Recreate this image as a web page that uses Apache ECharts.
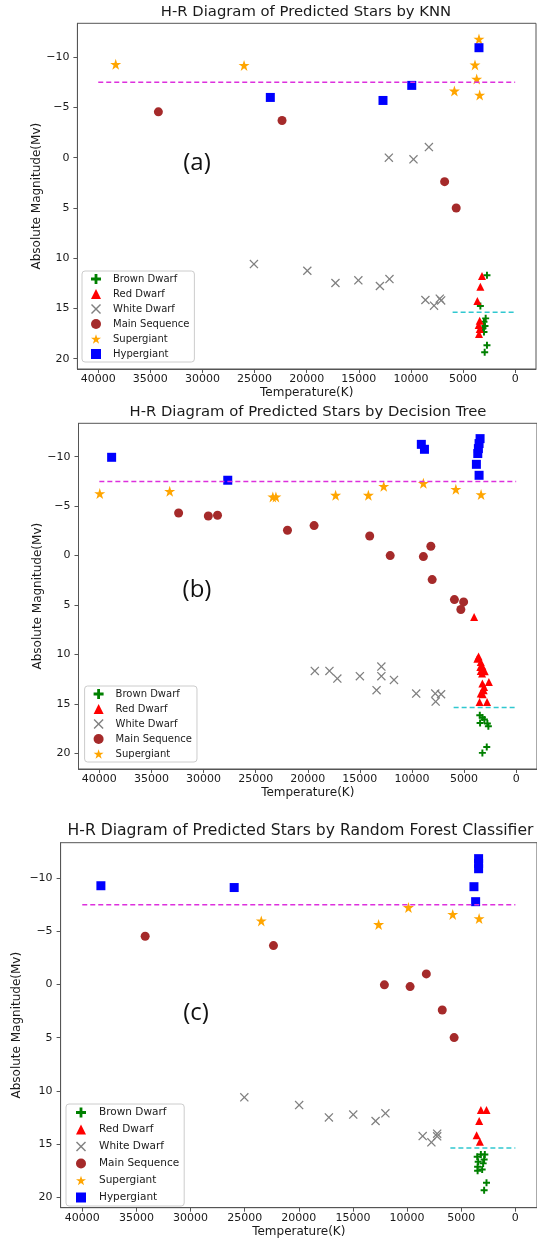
<!DOCTYPE html>
<html>
<head>
<meta charset="utf-8">
<script src="https://cdn.jsdelivr.net/npm/echarts@6/dist/echarts.min.js"></script>
<style>
html, body { margin: 0; padding: 0; background: #fff; }
#main { width: 537px; height: 1241px; }
</style>
</head>
<body>
<div id="main"></div>
<script>
// star classes, in legend order
var classes = ['Brown Dwarf', 'Red Dwarf', 'White Dwarf', 'Main Sequence', 'Supergiant', 'Hypergiant'];

// axis ticks
var tempTicks = [0, 5000, 10000, 15000, 20000, 25000, 30000, 35000, 40000];
var magTicks = [-10, -5, 0, 5, 10, 15, 20];

// reference lines [x from, x to] and y
var hyperLineX = [40000, 0];
var hyperLineY = -7.5;
var dwarfLineX = [6000, 0];
var dwarfLineY = 15.38;

// (a) KNN  [temperature, absolute magnitude]
var knnBrown = [[2704, 11.7], [3337, 14.76], [2828, 15.99], [2991, 16.32], [2895, 16.75], [3087, 16.98], [2991, 17.35], [2704, 18.67], [2924, 19.37]];
var knnRed = [[3183, 11.77], [3337, 12.84], [3624, 14.26], [3404, 16.22], [3500, 16.65], [3404, 17.05], [3470, 17.55]];
var knnWhite = [[25064, 10.59], [19941, 11.25], [17241, 12.47], [15044, 12.2], [12975, 12.77], [12059, 12.08], [8611, 14.16], [7783, 14.73], [7232, 14.03], [7100, 14.2], [12118, 0], [9754, 0.16], [8276, -1.06]];
var knnMain = [[34230, -4.57], [22365, -3.7], [6768, 2.38], [5655, 5.0]];
var knnSuper = [[38325, -9.3], [26010, -9.18], [3471, -11.81], [3854, -9.23], [3691, -7.83], [5829, -6.64], [3404, -6.24]];
var knnHyper = [[23490, -6.0], [12680, -5.7], [9921, -7.2], [3471, -10.95]];

// (b) Decision Tree
var dtBrown = [[3491, 16.15], [3242, 16.39], [3051, 16.59], [3462, 16.93], [2764, 16.99], [2668, 17.27], [2822, 19.36], [3242, 19.96]];
var dtRed = [[4036, 6.21], [3606, 10.2], [3720, 10.45], [3396, 10.76], [3443, 11.27], [3242, 11.2], [3013, 11.7], [3271, 11.94], [3396, 11.67], [2621, 12.78], [3242, 12.95], [3080, 13.29], [3118, 13.62], [3214, 14.03], [3396, 13.96], [3510, 14.8], [2793, 14.8]];
var dtWhite = [[19322, 11.67], [17917, 11.67], [17160, 12.44], [14998, 12.2], [13396, 13.62], [12934, 11.23], [12934, 12.2], [11725, 12.58], [9592, 13.96], [7764, 13.96], [7725, 14.77], [7204, 14.03]];
var dtMain = [[32393, -4.31], [29543, -4.0], [28659, -4.08], [21946, -2.56], [19391, -3.03], [14054, -1.98], [12088, 0], [8904, 0.1], [8187, -0.94], [8059, 2.43], [5926, 4.45], [5042, 4.69], [5307, 5.46]];
var dtSuper = [[39960, -6.27], [33248, -6.5], [23351, -5.93], [23056, -5.93], [17327, -6.1], [14182, -6.1], [12708, -7.0], [8904, -7.31], [5787, -6.7], [3367, -6.17]];
var dtHyper = [[38821, -9.94], [27676, -7.62], [9100, -11.25], [8800, -10.75], [3462, -11.83], [3558, -11.33], [3625, -10.82], [3683, -10.32], [3816, -9.23], [3558, -8.12]];

// (c) Random Forest
var rfBrown = [[2819, 15.99], [3184, 15.99], [3522, 16.21], [2883, 16.46], [3431, 16.68], [2974, 16.83], [3485, 17.15], [3066, 17.4], [3485, 17.53], [2664, 18.66], [2883, 19.35]];
var rfRed = [[3184, 11.81], [2664, 11.81], [3339, 12.85], [3577, 14.17], [3276, 14.8]];
var rfWhite = [[25031, 10.61], [19968, 11.34], [17221, 12.5], [14971, 12.24], [12909, 12.84], [12000, 12.12], [8559, 14.26], [7753, 14.85], [7219, 14.03], [7219, 14.28]];
var rfMain = [[34190, -4.55], [22340, -3.67], [12094, 0.03], [9721, 0.19], [8221, -1.0], [6750, 2.39], [5653, 4.99]];
var rfSuper = [[23466, -5.99], [12628, -5.65], [9872, -7.25], [5784, -6.6], [3347, -6.21]];
var rfHyper = [[38278, -9.3], [25968, -9.13], [3394, -11.85], [3394, -11.4], [3394, -10.9], [3823, -9.21], [3668, -7.8]];

var plots = [
	{ title: 'H-R Diagram of Predicted Stars by KNN', tag: '(a)', sets: [knnBrown, knnRed, knnWhite, knnMain, knnSuper, knnHyper], legend: classes },
	{ title: 'H-R Diagram of Predicted Stars by Decision Tree', tag: '(b)', sets: [dtBrown, dtRed, dtWhite, dtMain, dtSuper, dtHyper], legend: classes.slice(0, 5) },
	{ title: 'H-R Diagram of Predicted Stars by Random Forest Classifier', tag: '(c)', sets: [rfBrown, rfRed, rfWhite, rfMain, rfSuper, rfHyper], legend: classes }
];

// layout of each panel (pixels)
var layout = [
	{ grid: { left: 77.4, top: 23.3, width: 458.6, height: 345.7 }, ymin: -13.38, ymax: 21.03, titleX: 306, titleY: 5, tagX: 197, tagY: 163,
	  legend: { left: 82, top: 271, gap: 5, pad: [3, 5, 3, 9], txt: 7 }, yName: 35, font: 14.8 },
	{ grid: { left: 78.5, top: 423.3, width: 459.5, height: 345.7 }, ymin: -13.38, ymax: 21.59, titleX: 308, titleY: 405, tagX: 197, tagY: 590,
	  legend: { left: 84.6, top: 686, gap: 5, pad: [3, 5, 3, 9], txt: 7 }, yName: 35, font: 14.8 },
	{ grid: { left: 60.6, top: 842.7, width: 482.2, height: 365 }, ymin: -13.35, ymax: 21.0, titleX: 300.5, titleY: 823, tagX: 196, tagY: 1013,
	  legend: { left: 66, top: 1104, gap: 6, pad: [3, 5, 3, 10], txt: 8 }, yName: 37.5, font: 15.6 }
];

var plusPath = 'path://M36,0 H64 V36 H100 V64 H64 V100 H36 V64 H0 V36 H36 Z';
var crossPath = 'path://M0,10 L10,0 L50,40 L90,0 L100,10 L60,50 L100,90 L90,100 L50,60 L10,100 L0,90 L40,50 Z';
var starPath = 'path://M50,0 L61.8,35.4 L100,35.4 L69.1,57.3 L80.9,95.1 L50,72.4 L19.1,95.1 L30.9,57.3 L0,35.4 L38.2,35.4 Z';

var markers = {
	'Brown Dwarf': { symbol: plusPath, size: 7, color: '#008000' },
	'Red Dwarf': { symbol: 'triangle', size: 8, color: '#ff0000' },
	'White Dwarf': { symbol: crossPath, size: 9, color: '#808080' },
	'Main Sequence': { symbol: 'circle', size: 9, color: '#a52a2a' },
	'Supergiant': { symbol: starPath, size: 11, color: '#ffa500' },
	'Hypergiant': { symbol: 'rect', size: 9, color: '#0000ff' }
};

var FONT = 'DejaVu Sans';
var TXT = '#1a1a1a';
var minus = function(v) { return String(v).replace('-', '\u2212'); };

var grids = [], xAxes = [], yAxes = [], titles = [], legends = [], series = [], graphics = [];

plots.forEach(function(p, i) {
	var L = layout[i];
	grids.push(Object.assign({ show: true, borderColor: '#555', borderWidth: 1, containLabel: false }, L.grid));
	xAxes.push({
		type: 'value', gridIndex: i, inverse: true, min: -2000, max: 42000,
		name: 'Temperature(K)', nameLocation: 'middle', nameGap: 18, nameMoveOverlap: false,
		nameTextStyle: { fontFamily: FONT, fontSize: 12, color: TXT },
		axisLine: { show: true, onZero: false, lineStyle: { color: '#555' } },
		axisTick: { show: true, length: 4, customValues: tempTicks, lineStyle: { color: '#555' } },
		axisLabel: { customValues: tempTicks, margin: 5, fontFamily: FONT, fontSize: 11, color: TXT, formatter: function(v) { return String(v); } },
		splitLine: { show: false }
	});
	yAxes.push({
		type: 'value', gridIndex: i, inverse: true, min: L.ymin, max: L.ymax,
		name: 'Absolute Magnitude(Mv)', nameLocation: 'middle', nameGap: L.yName, nameMoveOverlap: false,
		nameTextStyle: { fontFamily: FONT, fontSize: 12, color: TXT },
		axisLine: { show: true, onZero: false, lineStyle: { color: '#555' } },
		axisTick: { show: true, length: 4, customValues: magTicks, lineStyle: { color: '#555' } },
		axisLabel: { customValues: magTicks, margin: 8, fontFamily: FONT, fontSize: 11, color: TXT, formatter: minus },
		splitLine: { show: false }
	});
	titles.push({
		text: p.title, left: L.titleX, top: L.titleY, textAlign: 'center', padding: 0,
		textStyle: { fontFamily: FONT, fontSize: L.font, fontWeight: 'normal', color: TXT }
	});
	legends.push({
		data: p.legend, orient: 'vertical', left: L.legend.left, top: L.legend.top,
		itemWidth: 10, itemHeight: 10, itemGap: L.legend.gap, padding: L.legend.pad,
		borderColor: '#cccccc', borderWidth: 1, borderRadius: 3, backgroundColor: 'rgba(255,255,255,0.85)',
		textStyle: { fontFamily: FONT, fontSize: i === 2 ? 10.5 : 10, color: TXT, lineHeight: 10, padding: [0, 0, 0, L.legend.txt] },
		selectedMode: false
	});
	p.sets.forEach(function(d, k) {
		var m = markers[classes[k]];
		series.push({
			type: 'scatter', name: classes[k], xAxisIndex: i, yAxisIndex: i, data: d,
			symbol: m.symbol, symbolSize: m.size, itemStyle: { color: m.color, opacity: 1 },
			emphasis: { disabled: true }, z: 2
		});
	});
	series.push({
		type: 'line', xAxisIndex: i, yAxisIndex: i, symbol: 'none', silent: true, z: 3,
		data: hyperLineX.map(function(x) { return [x, hyperLineY]; }),
		lineStyle: { color: '#dd30dd', width: 1.5, type: [5, 3] }
	});
	series.push({
		type: 'line', xAxisIndex: i, yAxisIndex: i, symbol: 'none', silent: true, z: 3,
		data: dwarfLineX.map(function(x) { return [x, dwarfLineY]; }),
		lineStyle: { color: '#30c8d0', width: 1.5, type: [5, 3] }
	});
	graphics.push({
		type: 'text', x: L.tagX, y: L.tagY,
		style: { text: p.tag, fontFamily: 'Open Sans', fontSize: 24, fill: '#111', textAlign: 'center', textVerticalAlign: 'middle' }
	});
});

var myChart = echarts.init(document.getElementById('main'), null, { renderer: 'canvas' });
myChart.setOption({
	animation: false,
	backgroundColor: '#fff',
	title: titles,
	legend: legends,
	grid: grids,
	xAxis: xAxes,
	yAxis: yAxes,
	series: series,
	graphic: graphics
});
</script>
</body>
</html>
